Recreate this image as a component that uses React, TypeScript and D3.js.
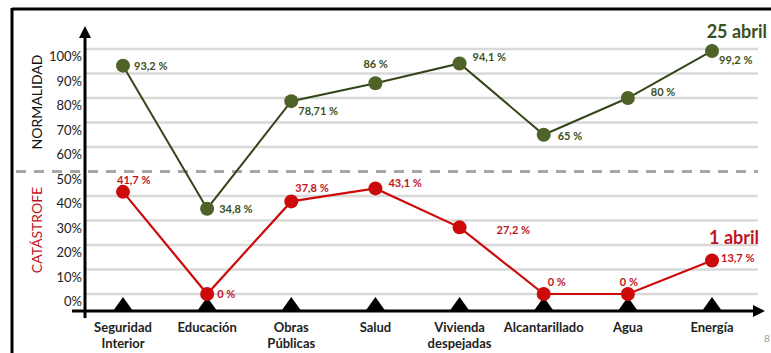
import React from "react";
import * as d3 from "d3";

const categories = [
  ["Seguridad", "Interior"],
  ["Educación"],
  ["Obras", "Públicas"],
  ["Salud"],
  ["Vivienda", "despejadas"],
  ["Alcantarillado"],
  ["Agua"],
  ["Energía"],
];
const april25 = [93.2, 34.8, 78.71, 86, 94.1, 65, 80, 99.2];
const april25Labels = ["93,2 %", "34,8 %", "78,71 %", "86 %", "94,1 %", "65 %", "80 %", "99,2 %"];
const april1 = [41.7, 0, 37.8, 43.1, 27.2, 0, 0, 13.7];
const april1Labels = ["41,7 %", "0 %", "37,8 %", "43,1 %", "27,2 %", "0 %", "0 %", "13,7 %"];
const yTicks = [0, 10, 20, 30, 40, 50, 60, 70, 80, 90, 100];

// label placement offsets (layout config)
const greenLabelOffsets: [number, number][] = [
  [11, 4], [12, 4], [7, 14], [-12, -15], [13, -2], [14, 5], [23, -2], [7, 13],
];
const redLabelOffsets: [number, number][] = [
  [-6, -8], [10, 4], [4, -9], [13, -1], [37, 7], [4, -8], [-8, -8], [9, 2],
];

const W = 771;
const H = 353;
const GREEN = "#4f6228";
const GREEN_LINE = "#34471a";
const GREEN_TXT = "#3b5020";
const RED = "#cc0a0a";
const RED_TXT = "#c0141c";
const FONT = "Lato, 'Open Sans', sans-serif";

export default function App() {
  const names = categories.map((c) => c.join(" "));
  const x = d3.scalePoint<string>().domain(names).range([123, 712]);
  const y = d3.scaleLinear().domain([0, 100]).range([294, 49]);
  const axisY = 311;
  const axisX = 85;

  const line = d3
    .line<number>()
    .x((_, i) => x(names[i]) as number)
    .y((d) => y(d));

  return (
    <svg
      width={W}
      height={H}
      style={{ position: "absolute", left: 0, top: 0, background: "#fff" }}
      fontFamily={FONT}
    >
      {/* frame */}
      <line x1={12} x2={W} y1={9} y2={9} stroke="#000" strokeWidth={3} />
      <line x1={12} x2={12} y1={8} y2={H} stroke="#000" strokeWidth={3} />

      {/* gridlines */}
      {yTicks
        .filter((t) => t !== 50)
        .map((t) => (
          <line key={t} x1={axisX} x2={758} y1={y(t)} y2={y(t)} stroke="#d9d9d9" strokeWidth={2.5} />
        ))}
      <line
        x1={16}
        x2={758}
        y1={y(50)}
        y2={y(50)}
        stroke="#a6a6a6"
        strokeWidth={3}
        strokeDasharray="10 8"
      />

      {/* y tick labels */}
      {yTicks.map((t) => (
        <text key={t} x={82} y={y(t) + 12} textAnchor="end" fontSize={13} fill="#222">
          {t}%
        </text>
      ))}

      {/* axis titles */}
      <text
        transform={`translate(42,102) rotate(-90)`}
        textAnchor="middle"
        fontSize={14}
        fill="#111"
      >
        NORMALIDAD
      </text>
      <text
        transform={`translate(42,230) rotate(-90)`}
        textAnchor="middle"
        fontSize={14}
        fill={RED_TXT}
      >
        CATÁSTROFE
      </text>

      {/* axes */}
      <line x1={axisX} x2={axisX} y1={36} y2={318} stroke="#000" strokeWidth={3} />
      <path d={`M${axisX - 6},${38} L${axisX},${26} L${axisX + 6},${38} Z`} fill="#000" />
      <line x1={72} x2={755} y1={axisY} y2={axisY} stroke="#000" strokeWidth={3} />
      <path d={`M${753},${axisY - 6} L${765},${axisY} L${753},${axisY + 6} Z`} fill="#000" />

      {/* triangles */}
      {names.map((n) => {
        const cx = x(n) as number;
        return (
          <path key={n} d={`M${cx - 10},${axisY} L${cx},${axisY - 14} L${cx + 10},${axisY} Z`} fill="#000" />
        );
      })}

      {/* category labels */}
      {categories.map((c, i) => (
        <text key={i} x={x(names[i]) as number} textAnchor="middle" fontSize={13} fontWeight={700} fill="#222">
          {c.map((l, j) => (
            <tspan key={j} x={x(names[i]) as number} y={332 + j * 16}>
              {l}
            </tspan>
          ))}
        </text>
      ))}

      {/* series lines */}
      <path d={line(april25) || ""} fill="none" stroke={GREEN_LINE} strokeWidth={2} />
      <path d={line(april1) || ""} fill="none" stroke={RED} strokeWidth={2.2} />

      {april25.map((v, i) => (
        <circle key={"g" + i} cx={x(names[i]) as number} cy={y(v)} r={7} fill={GREEN} />
      ))}
      {april1.map((v, i) => (
        <circle key={"r" + i} cx={x(names[i]) as number} cy={y(v)} r={7} fill={RED} />
      ))}

      {/* data labels */}
      {april25Labels.map((l, i) => (
        <text
          key={"gl" + i}
          x={(x(names[i]) as number) + greenLabelOffsets[i][0]}
          y={y(april25[i]) + greenLabelOffsets[i][1]}
          fontSize={11}
          fontWeight={700}
          fill={GREEN_TXT}
        >
          {l}
        </text>
      ))}
      {april1Labels.map((l, i) => (
        <text
          key={"rl" + i}
          x={(x(names[i]) as number) + redLabelOffsets[i][0]}
          y={y(april1[i]) + redLabelOffsets[i][1]}
          fontSize={11}
          fontWeight={700}
          fill={RED_TXT}
        >
          {l}
        </text>
      ))}

      {/* series titles */}
      <text x={767} y={38} textAnchor="end" fontSize={18} fontWeight={700} fill={GREEN_TXT}>
        25 abril
      </text>
      <text x={759} y={244} textAnchor="end" fontSize={18} fontWeight={700} fill={RED_TXT}>
        1 abril
      </text>

      {/* page number */}
      <text x={764} y={342} fontSize={10} fill="#999">
        8
      </text>
    </svg>
  );
}
